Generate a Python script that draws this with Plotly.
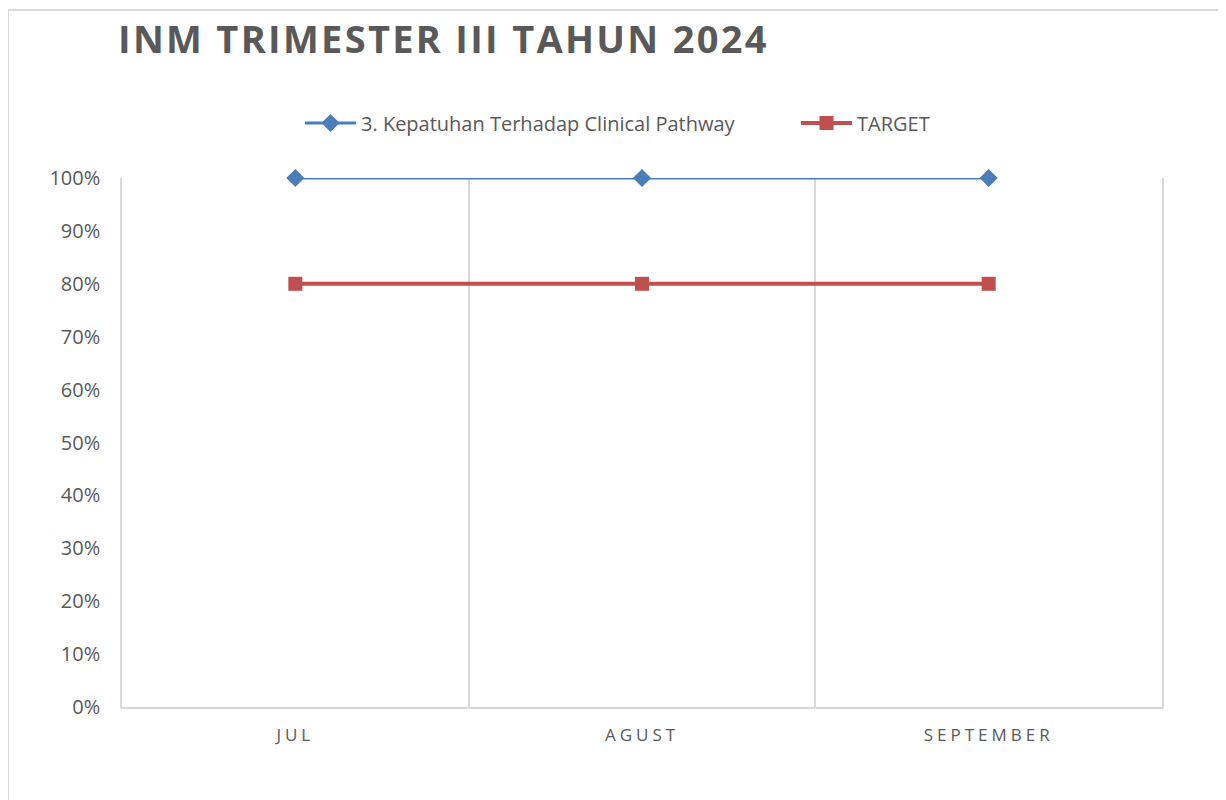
import plotly.graph_objects as go

months = ["JUL", "AGUST", "SEPTEMBER"]
kepatuhan = [1.0, 1.0, 1.0]
target = [0.8, 0.8, 0.8]
series_name_1 = "3. Kepatuhan Terhadap Clinical Pathway"
series_name_2 = "TARGET"
title_text = "INM TRIMESTER III TAHUN 2024"

W, H = 1226, 800
OFF = 8  # page body margin
L, R, T, B = 122 - OFF, 1162 - OFF, 178 - OFF, 707 - OFF

fig = go.Figure()
fig.add_trace(go.Scatter(
    x=months, y=kepatuhan, name=series_name_1, mode="lines+markers",
    line=dict(color="#4A7EBB", width=3),
    marker=dict(symbol="diamond", size=14, color="#4A7EBB"),
    cliponaxis=False, legend="legend",
))
fig.add_trace(go.Scatter(
    x=months, y=target, name=series_name_2, mode="lines+markers",
    line=dict(color="#C0504D", width=4),
    marker=dict(symbol="square", size=14, color="#C0504D"),
    cliponaxis=False, legend="legend2",
))

pw, ph = R - L, B - T
def px_x(p):
    return (p - OFF - L) / pw
def px_y(p):
    return (B - (p - OFF)) / ph

fig.add_shape(type="rect", xref="paper", yref="paper",
              x0=px_x(8), x1=px_x(1224), y0=px_y(10), y1=px_y(830),
              line=dict(color="#D9D9D9", width=2), fillcolor="rgba(0,0,0,0)", layer="below")

legend_common = dict(orientation="h", xanchor="left", yanchor="middle", itemwidth=51,
                     font=dict(size=20, color="#595959"), bgcolor="rgba(0,0,0,0)")

fig.update_layout(
    width=W, height=H,
    margin=dict(l=L, r=W - R, t=T, b=H - B, pad=0),
    paper_bgcolor="white", plot_bgcolor="white",
    font=dict(family="Open Sans, sans-serif", color="#595959", size=20),
    title=dict(text="<b>" + title_text + "</b>", x=(118 - OFF) / W, xanchor="left", xref="container",
               y=1 - (40 - OFF) / H, yanchor="middle", yref="container",
               font=dict(family="Open Sans, sans-serif", size=38, color="#595959")),
    legend=dict(x=px_x(300), y=px_y(123), **legend_common),
    legend2=dict(x=px_x(796), y=px_y(123), **legend_common),
    showlegend=True,
)
fig.update_xaxes(
    type="category", range=[-0.5, 2.5], tickson="boundaries",
    showgrid=True, gridcolor="#D9D9D9", gridwidth=1.5,
    showline=True, linecolor="#D9D9D9", linewidth=2,
    ticks="", ticklabelstandoff=12, tickfont=dict(size=17, color="#595959"),
    zeroline=False,
)
fig.update_yaxes(
    range=[0, 1], dtick=0.1, tickformat=".0%", showgrid=False,
    showline=True, mirror=True, linecolor="#D9D9D9", linewidth=1.5,
    zeroline=False, ticks="", ticklabelstandoff=16,
    tickfont=dict(size=20, color="#595959"),
)

post = """
var gd = document.getElementById('{plot_id}');
function spacing(){
  gd.querySelectorAll('.xtick text').forEach(function(t){ t.style.letterSpacing = '4px'; });
  gd.querySelectorAll('.gtitle').forEach(function(t){ t.style.letterSpacing = '2.3px'; });
}
spacing();
gd.on('plotly_afterplot', spacing);
"""
fig.write_html("out.html", post_script=post)
